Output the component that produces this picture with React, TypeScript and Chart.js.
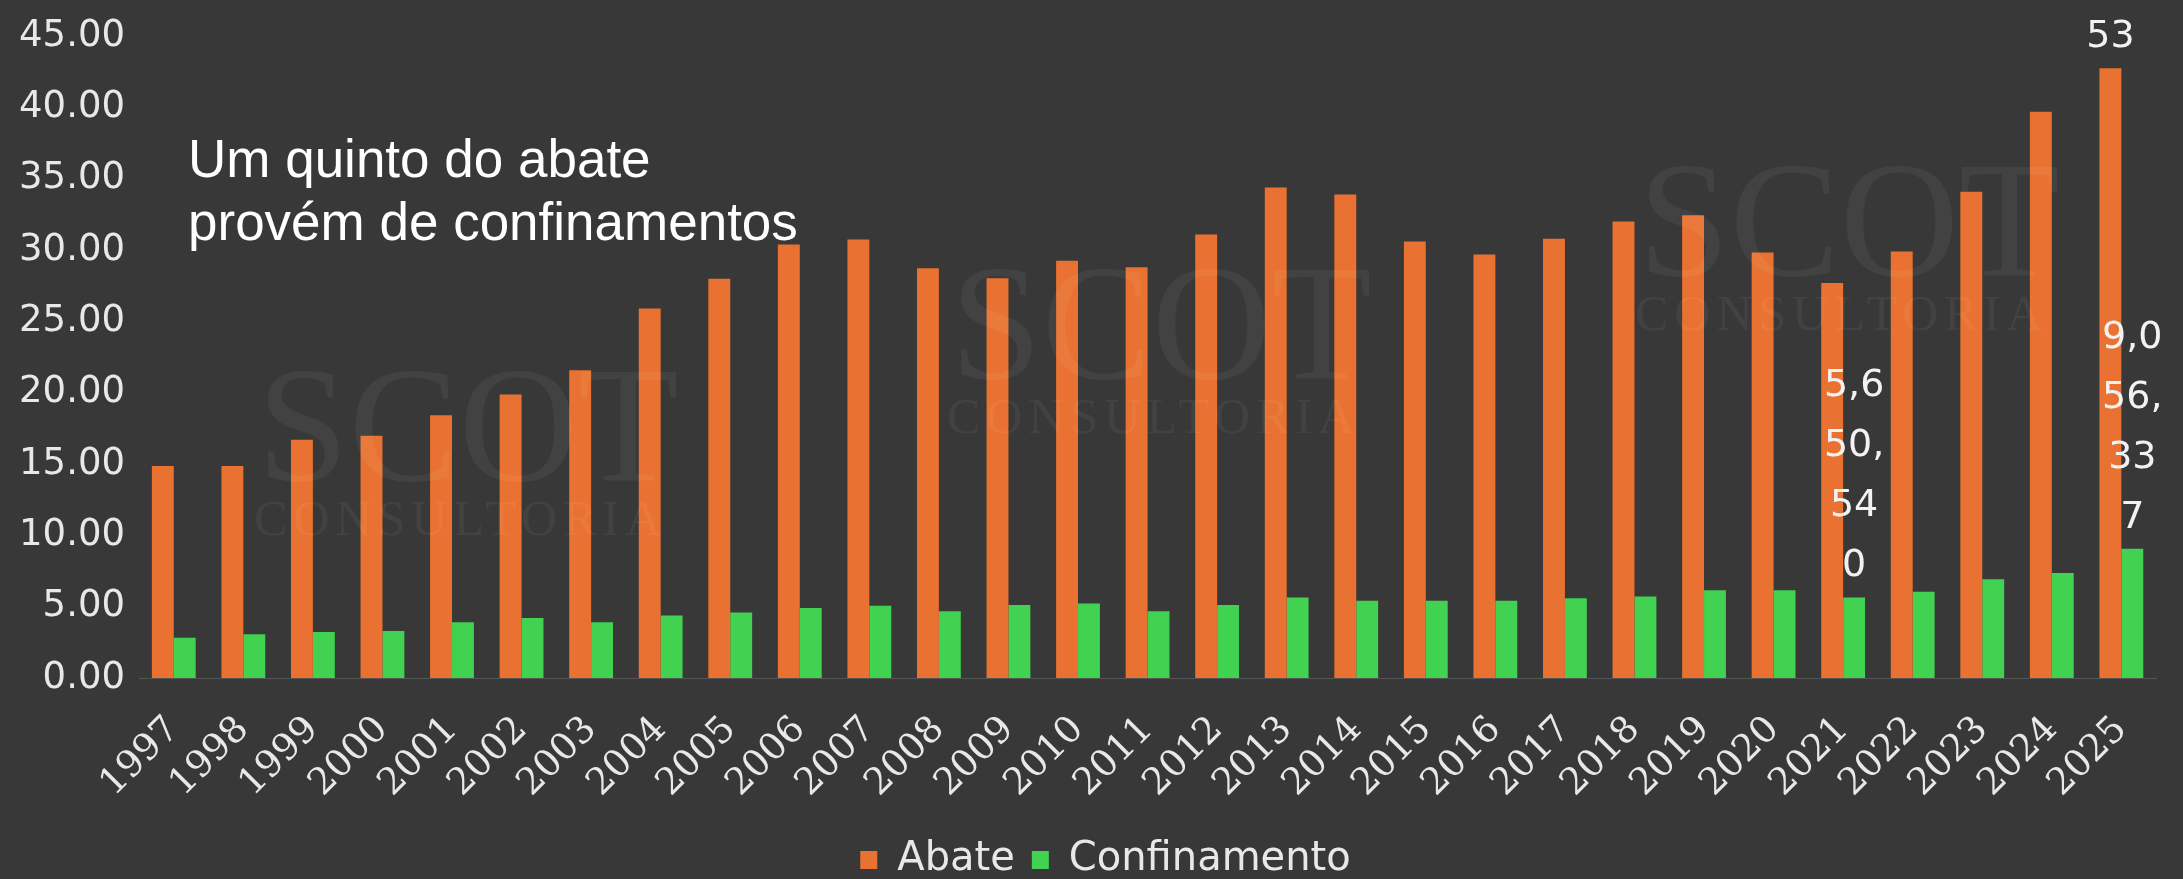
import React, { useEffect, useRef } from "react";
import { Chart, registerables } from "chart.js";

Chart.register(...registerables);

const years = [
  "1997", "1998", "1999", "2000", "2001", "2002", "2003", "2004", "2005", "2006",
  "2007", "2008", "2009", "2010", "2011", "2012", "2013", "2014", "2015", "2016",
  "2017", "2018", "2019", "2020", "2021", "2022", "2023", "2024", "2025",
];

const abate = [
  14.86, 14.86, 16.71, 16.99, 18.43, 19.88, 21.57, 25.9, 27.99, 30.4,
  30.74, 28.73, 28.03, 29.26, 28.8, 31.1, 34.4, 33.9, 30.6, 29.7,
  30.8, 32.0, 32.45, 29.84, 27.69, 29.9, 34.1, 39.7, 42.75,
];

const confinamento = [
  2.82, 3.06, 3.22, 3.29, 3.91, 4.21, 3.91, 4.38, 4.6, 4.91,
  5.07, 4.68, 5.11, 5.23, 4.68, 5.11, 5.65, 5.42, 5.42, 5.42,
  5.6, 5.72, 6.15, 6.15, 5.65, 6.05, 6.92, 7.36, 9.056,
];

const seriesNames = ["Abate", "Confinamento"];

// value labels shown in the picture (wrapped in a narrow column)
const abateLabelText: Record<string, string> = { "2025": "53" };
const confLabelText: Record<string, string> = { "2021": "5,650,540", "2025": "9,056,337" };

const noteLines = ["Um quinto do abate", "provém de confinamentos"];
const watermarkWords = ["SCOT", "CONSULTORIA"];

const BG = "#383838";
const ORANGE = "#E97232";
const GREEN = "#40D250";
const TEXT = "#e8e8e8";

function wrapLabel(ctx: CanvasRenderingContext2D, text: string, maxW: number): string[] {
  const lines: string[] = [];
  let cur = "";
  for (const ch of text) {
    const t = cur + ch;
    if (cur && ctx.measureText(t).width > maxW) {
      lines.push(cur);
      cur = ch;
    } else {
      cur = t;
    }
  }
  if (cur) lines.push(cur);
  return lines;
}

const legendShiftPlugin = {
  id: "legendShift",
  afterLayout(chart: any) {
    if (chart.legend) {
      chart.legend.left += 21;
      chart.legend.right += 21;
    }
  },
};

const overlayPlugin = {
  id: "overlay",
  afterDatasetsDraw(chart: any) {
    const ctx: CanvasRenderingContext2D = chart.ctx;
    // watermark
    ctx.save();
    ctx.fillStyle = "rgba(255,255,255,0.05)";
    ctx.textAlign = "left";
    ctx.textBaseline = "alphabetic";
    const spots = [
      [257, 480],
      [950, 378],
      [1638, 275],
    ];
    for (const [x, y] of spots) {
      ctx.font = '165px "Liberation Serif"';
      (ctx as any).letterSpacing = "0px";
      ctx.fillText(watermarkWords[0], x, y);
      ctx.font = '50px "Liberation Serif"';
      (ctx as any).letterSpacing = "6px";
      ctx.fillText(watermarkWords[1], x - 3, y + 55);
    }
    (ctx as any).letterSpacing = "0px";
    ctx.restore();

    // data labels
    ctx.save();
    ctx.font = '38px "DejaVu Sans"';
    ctx.fillStyle = "#f2f2f2";
    ctx.textAlign = "center";
    ctx.textBaseline = "middle";
    const sets = [abateLabelText, confLabelText];
    chart.data.datasets.forEach((_ds: any, di: number) => {
      const meta = chart.getDatasetMeta(di);
      const map = sets[di];
      meta.data.forEach((el: any, i: number) => {
        const txt = map[chart.data.labels[i]];
        if (!txt) return;
        const lines = wrapLabel(ctx, txt, 66);
        const { x, y } = el.getProps(["x", "y"], true);
        lines.forEach((ln, k) => {
          ctx.fillText(ln, x, y - 31 - (lines.length - 1 - k) * 60);
        });
      });
    });
    ctx.restore();
  },
  afterDraw(chart: any) {
    const ctx: CanvasRenderingContext2D = chart.ctx;
    ctx.save();
    ctx.font = '53px "Liberation Sans"';
    ctx.fillStyle = "#ffffff";
    ctx.textAlign = "left";
    ctx.textBaseline = "alphabetic";
    noteLines.forEach((ln, k) => ctx.fillText(ln, 188, 177 + k * 63));
    ctx.restore();
  },
};

export default function App() {
  const ref = useRef<HTMLCanvasElement>(null);

  useEffect(() => {
    if (!ref.current) return;
    const chart = new Chart(ref.current, {
      type: "bar",
      data: {
        labels: years,
        datasets: [
          {
            label: seriesNames[0],
            data: abate,
            backgroundColor: ORANGE,
            borderWidth: 0,
            barPercentage: 1,
            categoryPercentage: 0.63,
          },
          {
            label: seriesNames[1],
            data: confinamento,
            backgroundColor: GREEN,
            borderWidth: 0,
            barPercentage: 1,
            categoryPercentage: 0.63,
          },
        ],
      },
      options: {
        responsive: false,
        animation: false,
        layout: { padding: { left: 0, right: 14, top: 30, bottom: 0 } },
        plugins: {
          tooltip: { enabled: false },
          legend: {
            position: "bottom",
            labels: {
              color: TEXT,
              font: { family: "DejaVu Sans", size: 40 },
              boxWidth: 17,
              boxHeight: 18,
              padding: 17,
            },
          },
        },
        scales: {
          x: {
            grid: { display: false, drawTicks: false },
            border: { display: true, color: "#555555", width: 1 },
            ticks: {
              autoSkip: false,
              minRotation: 45,
              maxRotation: 45,
              padding: 30,
              color: TEXT,
              font: { family: "DejaVu Serif", size: 37 },
            },
            afterFit: (s: any) => {
              s.height = 145;
            },
          },
          y: {
            min: 0,
            max: 45,
            grid: { display: false, drawTicks: false },
            border: { display: false },
            ticks: {
              stepSize: 5,
              padding: 14,
              color: TEXT,
              font: { family: "DejaVu Sans", size: 37 },
              callback: (v: any) => Number(v).toFixed(2),
            },
            afterFit: (s: any) => {
              s.width = 139;
            },
          },
        },
      },
      plugins: [legendShiftPlugin, overlayPlugin],
    } as any);
    return () => chart.destroy();
  }, []);

  return (
    <div
      style={{
        position: "fixed",
        left: 0,
        top: 0,
        width: 2183,
        height: 879,
        overflow: "hidden",
        background: BG,
      }}
    >
      <canvas ref={ref} width={2183} height={890} style={{ display: "block", width: 2183, height: 890 }} />
    </div>
  );
}
